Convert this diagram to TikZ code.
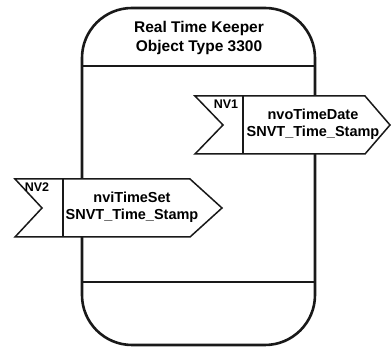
\documentclass[tikz,border=0pt]{standalone}
\usepackage{fontspec}
\setmainfont{Liberation Sans}
\usetikzlibrary{positioning, calc}

\tikzset{
  blockline/.style={line width=2.6pt, black!90},
  portline/.style={line width=1.5pt, black!90, fill=white, line join=miter},
  titletext/.style={font=\bfseries\fontsize{15.5}{19}\selectfont, align=center, inner sep=0pt},
  porttext/.style={font=\bfseries\fontsize{14.5}{17}\selectfont, align=center, inner sep=0pt},
  nvtext/.style={font=\bfseries\fontsize{12.5}{14}\selectfont, inner sep=0pt}
}

\begin{document}
\begin{tikzpicture}[x=1pt, y=-1pt]
  \useasboundingbox (0,0) rectangle (392,347);

  % Object block
  \draw[blockline, rounded corners=50pt] (82,8) rectangle (315,345);
  \draw[line width=2pt, black!90] (82,66) -- (315,66);
  \draw[line width=2pt, black!90] (82,282) -- (315,282);
  \node[titletext] (title) at (199,38) {Real Time Keeper\\Object Type 3300};

  % Output NV1
  \draw[portline] (195,96) -- (365,96) -- (390,125) -- (365,154) -- (195,154) -- (223,125) -- cycle;
  \draw[line width=1.5pt, black!90] (243,96) -- (243,154);
  \node[nvtext] (nv1) at (226,104) {NV1};
  \node[porttext] (nvo) at (313,124) {nvoTimeDate\\SNVT\_Time\_Stamp};

  % Input NV2
  \draw[portline] (15,179) -- (190,179) -- (222,208) -- (190,237) -- (15,237) -- (42,208) -- cycle;
  \draw[line width=1.5pt, black!90] (63,179) -- (63,237);
  \node[nvtext] (nv2) at (37,187) {NV2};
  \node[porttext] (nvi) at (132,207) {nviTimeSet\\SNVT\_Time\_Stamp};
\end{tikzpicture}
\end{document}
